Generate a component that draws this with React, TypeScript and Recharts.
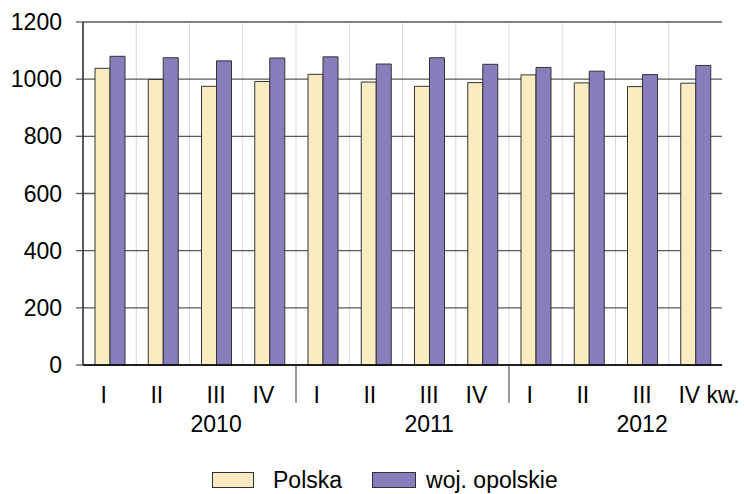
import React from 'react';
import { BarChart, Bar, XAxis, YAxis, CartesianGrid, Legend } from 'recharts';

const quarters = ['I', 'II', 'III', 'IV'];
const years = ['2010', '2011', '2012'];
const polska = [1038, 999, 975, 992, 1017, 990, 975, 988, 1015, 987, 974, 986];
const opolskie = [1080, 1075, 1064, 1074, 1078, 1053, 1075, 1052, 1041, 1028, 1016, 1048];
const yTicks = [0, 200, 400, 600, 800, 1000, 1200];
const seriesNames = ['Polska', 'woj. opolskie'];
const lastSuffix = ' kw.';

const data = years.flatMap((yr, yi) =>
  quarters.map((q, qi) => ({
    cat: `${q}-${yr}`,
    quarter: q,
    year: yr,
    polska: polska[yi * 4 + qi],
    opolskie: opolskie[yi * 4 + qi],
  }))
);

const W = 744;
const H = 494;
const M = { top: 22, right: 22, left: 0, bottom: 2 };
const Y_W = 83;
const BAND = (W - M.left - M.right - Y_W) / data.length;
const FONT = '"Liberation Sans", Arial, Helvetica, sans-serif';
const FS = 23;
const C1 = '#FAEBC0';
const C2 = '#877EBB';

const QuarterTick = (props: any) => {
  const { x, y, index } = props;
  const d = data[index];
  if (!d) return null;
  const isLast = index === data.length - 1;
  const isThird = d.quarter === 'III';
  const dx = isThird ? 0 : -6;
  return (
    <g>
      {isLast ? (
        <text x={x - 17} y={y + 38} textAnchor="start" fontFamily={FONT} fontSize={FS} fill="#000">
          {d.quarter + lastSuffix}
        </text>
      ) : (
        <text x={x + dx} y={y + 38} textAnchor="middle" fontFamily={FONT} fontSize={FS} fill="#000">
          {d.quarter}
        </text>
      )}
      {isThird && (
        <text x={x} y={y + 67} textAnchor="middle" fontFamily={FONT} fontSize={FS} fill="#000">
          {d.year}
        </text>
      )}
      {d.quarter === 'IV' && !isLast && (
        <line x1={x + BAND / 2} x2={x + BAND / 2} y1={y} y2={y + 38} stroke="#333" strokeWidth={1} />
      )}
    </g>
  );
};

const LegendContent = () => (
  <div style={{ display: 'flex', alignItems: 'center', height: 24, fontFamily: FONT, fontSize: FS, color: '#000', whiteSpace: 'nowrap' }}>
    <span style={{ display: 'inline-block', width: 42, height: 16, background: C1, border: '1px solid #333', boxSizing: 'border-box' }} />
    <span style={{ marginLeft: 19 }}>{seriesNames[0]}</span>
    <span style={{ display: 'inline-block', marginLeft: 30, width: 44, height: 16, background: C2, border: '1px solid #333', boxSizing: 'border-box' }} />
    <span style={{ marginLeft: 10 }}>{seriesNames[1]}</span>
  </div>
);

export default function App() {
  return (
    <div style={{ position: 'absolute', left: 0, top: 0, width: W, height: H, background: '#fff', fontFamily: FONT }}>
      <BarChart width={W} height={H} data={data} margin={M} barSize={15} barGap={0}>
        <CartesianGrid
          stroke="#d8d8d8"
          horizontal={false}
          vertical={true}
          verticalCoordinatesGenerator={(p: any) => {
            const { left, width } = p.offset;
            return Array.from({ length: data.length - 1 }, (_, i) => left + ((i + 1) * width) / data.length);
          }}
        />
        <CartesianGrid stroke="#5a5a5a" strokeWidth={1.3} vertical={false} horizontal={true} />
        <XAxis
          dataKey="cat"
          height={103}
          interval={0}
          tickLine={false}
          tickSize={0}
          tickMargin={0}
          axisLine={{ stroke: '#000', strokeWidth: 1.3 }}
          tick={<QuarterTick />}
        />
        <YAxis
          width={Y_W}
          domain={[0, 1200]}
          ticks={yTicks}
          interval={0}
          tickSize={7}
          tickMargin={14}
          tickLine={{ stroke: '#5a5a5a', strokeWidth: 1.3 }}
          axisLine={{ stroke: '#000', strokeWidth: 1.3 }}
          tick={{ fontFamily: FONT, fontSize: FS, fill: '#000' }}
        />
        <YAxis yAxisId="right" orientation="right" width={0} domain={[0, 1200]} tick={false} tickLine={false} axisLine={{ stroke: '#000', strokeWidth: 1.3 }} />
        <Legend
          verticalAlign="bottom"
          content={<LegendContent />}
          wrapperStyle={{ left: 212, bottom: 2, width: 'auto', height: 24 }}
        />
        <Bar dataKey="polska" name={seriesNames[0]} fill={C1} stroke="#333" strokeWidth={1} isAnimationActive={false} />
        <Bar dataKey="opolskie" name={seriesNames[1]} fill={C2} stroke="#333" strokeWidth={1} isAnimationActive={false} />
      </BarChart>
    </div>
  );
}
